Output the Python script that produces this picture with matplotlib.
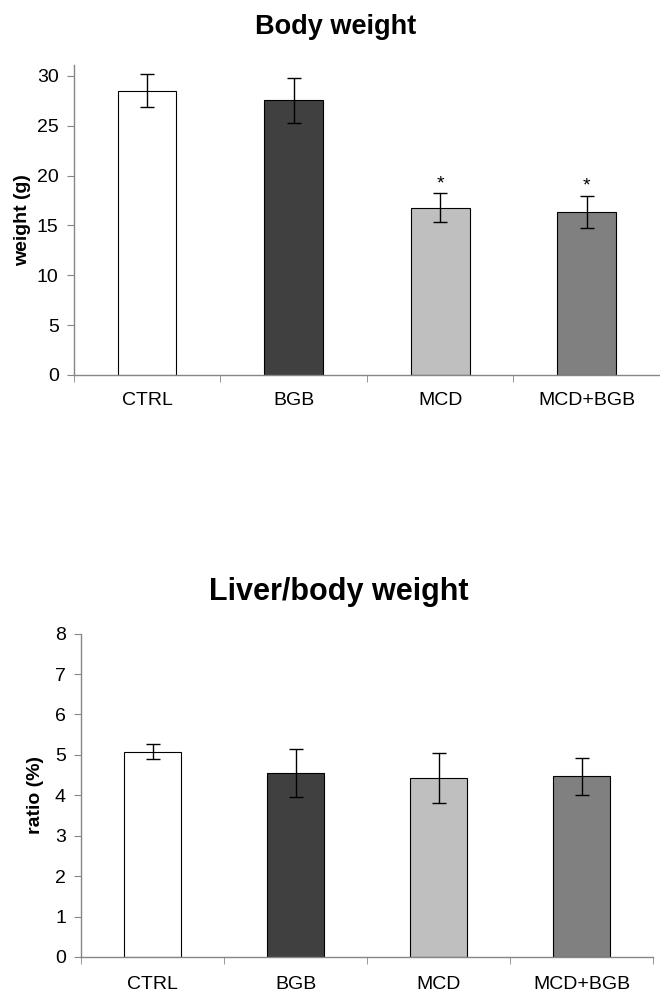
import numpy as np
import matplotlib
matplotlib.use("Agg")
import matplotlib.pyplot as plt

plt.rcParams['font.family'] = ['Liberation Sans', 'DejaVu Sans']

groups = ["CTRL", "BGB", "MCD", "MCD+BGB"]
colors = ["#ffffff", "#404040", "#bfbfbf", "#808080"]

body_weight = [28.5, 27.55, 16.8, 16.35]
body_err = [1.65, 2.25, 1.45, 1.65]
body_sig = ["", "", "*", "*"]

liver_ratio = [5.08, 4.55, 4.42, 4.47]
liver_err = [0.18, 0.59, 0.62, 0.46]

axis_gray = "#868686"

fig = plt.figure(figsize=(6.6, 9.92), dpi=100)
ax1 = fig.add_axes([0.112, 0.622, 0.888, 0.3125])
ax2 = fig.add_axes([0.123, 0.0353, 0.867, 0.326])


def style(ax, ylim, yticks, ylabel, label_x, xpad, title, title_x, title_y, title_size):
    x = np.arange(len(groups))
    ax.set_xlim(-0.5, len(groups) - 0.5)
    ax.set_ylim(*ylim)
    ax.set_yticks(yticks)
    ax.set_xticks(x)
    ax.set_xticklabels(groups, fontsize=14)
    ax.set_xticks(np.arange(len(groups) + 1) - 0.5, minor=True)
    ax.tick_params(axis='x', which='major', length=0, pad=xpad)
    ax.tick_params(axis='x', which='minor', length=5, color=axis_gray, direction='out')
    ax.tick_params(axis='y', length=5, color=axis_gray, labelsize=14, direction='out', pad=6)
    for s in ["top", "right"]:
        ax.spines[s].set_visible(False)
    for s in ["left", "bottom"]:
        ax.spines[s].set_color(axis_gray)
        ax.spines[s].set_linewidth(1)
    ax.set_ylabel(ylabel, fontsize=14, fontweight='bold')
    ax.yaxis.set_label_coords(label_x, 0.5)
    fig.text(title_x, title_y, title, ha='center', va='center',
             fontsize=title_size, fontweight='bold')


x = np.arange(len(groups))
ax1.bar(x, body_weight, width=0.4, color=colors, edgecolor="black", linewidth=0.8, zorder=2)
ax1.errorbar(x, body_weight, yerr=body_err, fmt='none', ecolor="black", elinewidth=1,
             capsize=5, capthick=1, zorder=3)
for xi, v, e, s in zip(x, body_weight, body_err, body_sig):
    if s:
        ax1.text(xi, v + e + 0.1, s, ha='center', va='bottom', fontsize=14)
style(ax1, (0, 31.1), np.arange(0, 31, 5), "weight (g)", -0.073, 12,
      "Body weight", 0.508, 0.973, 19.5)

ax2.bar(x, liver_ratio, width=0.4, color=colors, edgecolor="black", linewidth=0.8, zorder=2)
ax2.errorbar(x, liver_ratio, yerr=liver_err, fmt='none', ecolor="black", elinewidth=1,
             capsize=5, capthick=1, zorder=3)
style(ax2, (0, 8), np.arange(0, 9, 1), "ratio (%)", -0.065, 14,
      "Liver/body weight", 0.514, 0.403, 22)

fig.savefig("out.png", dpi=100)
